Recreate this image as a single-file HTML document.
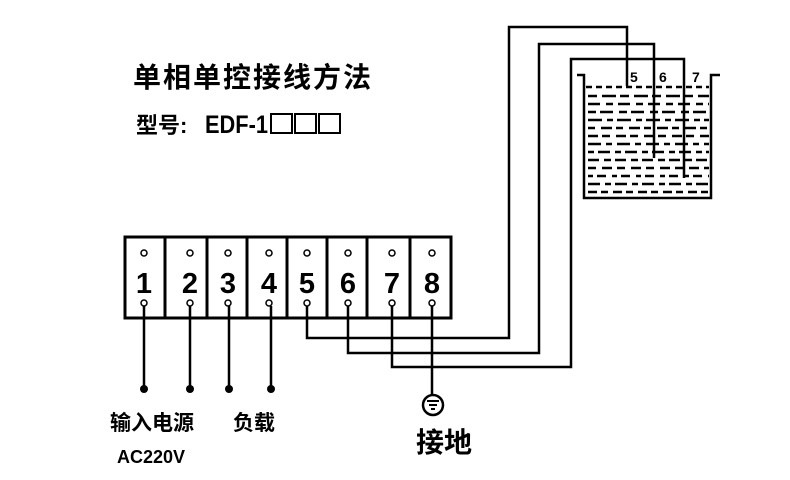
<!DOCTYPE html>
<html><head><meta charset="utf-8"><style>
html,body{margin:0;padding:0;background:#fff;}
svg{display:block}
text{font-family:"Liberation Sans","Noto Sans CJK SC",sans-serif;font-weight:bold;fill:#000}
</style></head><body>
<svg width="790" height="480" viewBox="0 0 790 480" xmlns="http://www.w3.org/2000/svg">
<text x="133" y="87" font-size="28" letter-spacing="2">单相单控接线方法</text>
<text x="136" y="133" font-size="22">型号:</text>
<text x="205" y="133" font-size="25" textLength="63" lengthAdjust="spacingAndGlyphs">EDF-1</text>
<g fill="none" stroke="#000" stroke-width="2">
<rect x="271" y="114" width="21" height="19"/><rect x="295" y="114" width="21" height="19"/><rect x="319" y="114" width="21" height="19"/>
</g>

<!-- terminal block -->
<g fill="none" stroke="#000" stroke-width="3">
<rect x="125" y="237" width="326" height="81"/>
<line x1="165" y1="237" x2="165" y2="318"/>
<line x1="207" y1="237" x2="207" y2="318"/>
<line x1="247" y1="237" x2="247" y2="318"/>
<line x1="287" y1="237" x2="287" y2="318"/>
<line x1="327" y1="237" x2="327" y2="318"/>
<line x1="367" y1="237" x2="367" y2="318"/>
<line x1="410" y1="237" x2="410" y2="318"/>
</g>
<g fill="#fff" stroke="#000" stroke-width="1.5">
<circle cx="144" cy="253" r="3"/><circle cx="190" cy="253" r="3"/><circle cx="228" cy="253" r="3"/><circle cx="269" cy="253" r="3"/>
<circle cx="307" cy="253" r="3"/><circle cx="348" cy="253" r="3"/><circle cx="392" cy="253" r="3"/><circle cx="432" cy="253" r="3"/>
</g>
<g font-size="29" text-anchor="middle">
<text x="144" y="293">1</text><text x="190" y="293">2</text><text x="228" y="293">3</text><text x="269" y="293">4</text>
<text x="307" y="293">5</text><text x="348" y="293">6</text><text x="392" y="293">7</text><text x="432" y="293">8</text>
</g>

<!-- wires -->
<g fill="none" stroke="#000" stroke-width="2.5">
<line x1="144" y1="306" x2="144" y2="389"/>
<line x1="190" y1="306" x2="190" y2="389"/>
<line x1="229" y1="306" x2="229" y2="389"/>
<line x1="271" y1="306" x2="271" y2="389"/>
<polyline points="307,306 307,338 509,338 509,27 627,27 627,86"/>
<polyline points="348,306 348,353 539,353 539,44 654,44 654,158"/>
<polyline points="392,306 392,367 571,367 571,59 684,59 684,178"/>
<line x1="432" y1="306" x2="432" y2="394"/>
<circle cx="433" cy="405" r="10"/>
<line x1="427" y1="401" x2="439" y2="401" stroke-width="2"/>
<line x1="429" y1="405" x2="437" y2="405" stroke-width="2"/>
<line x1="431" y1="409" x2="435" y2="409" stroke-width="2"/>
<!-- tank -->
<polyline points="577,75 584,75 584,198 711,198 711,75 720,75"/>
</g>
<g fill="#fff" stroke="#000" stroke-width="1.5">
<circle cx="144" cy="303" r="3"/><circle cx="190" cy="303" r="3"/><circle cx="228" cy="303" r="3"/><circle cx="269" cy="303" r="3"/>
<circle cx="307" cy="303" r="3"/><circle cx="348" cy="303" r="3"/><circle cx="392" cy="303" r="3"/><circle cx="432" cy="303" r="3"/>
</g>
<g fill="#000">
<circle cx="144" cy="389" r="4"/><circle cx="190" cy="389" r="4"/><circle cx="229" cy="389" r="4"/><circle cx="271" cy="389" r="4"/>
</g>
<!-- water -->
<g stroke="#000" stroke-width="2.5" fill="none">
<line x1="586" y1="87" x2="709" y2="87" stroke-dasharray="6,4"/>
<line x1="588" y1="96" x2="709" y2="96" stroke-dasharray="9,5,14,4"/>
<line x1="588" y1="104" x2="709" y2="104" stroke-dasharray="12,6,7,5"/>
<line x1="588" y1="112" x2="709" y2="112" stroke-dasharray="8,4,13,6"/>
<line x1="588" y1="120" x2="709" y2="120" stroke-dasharray="14,5,6,4"/>
<line x1="588" y1="128" x2="709" y2="128" stroke-dasharray="7,6,11,4"/>
<line x1="588" y1="136" x2="709" y2="136" stroke-dasharray="10,4,8,6"/>
<line x1="588" y1="144" x2="709" y2="144" stroke-dasharray="13,5,6,5"/>
<line x1="588" y1="152" x2="709" y2="152" stroke-dasharray="6,4,12,5"/>
<line x1="588" y1="160" x2="709" y2="160" stroke-dasharray="11,5,7,4"/>
<line x1="588" y1="168" x2="709" y2="168" stroke-dasharray="8,6,10,5"/>
<line x1="588" y1="176" x2="709" y2="176" stroke-dasharray="5,4,9,6"/>
<line x1="588" y1="184" x2="709" y2="184" stroke-dasharray="12,5,6,4"/>
<line x1="588" y1="192" x2="709" y2="192" stroke-dasharray="9,4,7,5"/>
</g>
<g font-size="14">
<text x="630" y="82">5</text><text x="659" y="82">6</text><text x="692" y="82">7</text>
</g>

<text x="110" y="430" font-size="21">输入电源</text>
<text x="233" y="430" font-size="21">负载</text>
<text x="117" y="463" font-size="18">AC220V</text>
<text x="416" y="452" font-size="28">接地</text>
</svg>
</body></html>
